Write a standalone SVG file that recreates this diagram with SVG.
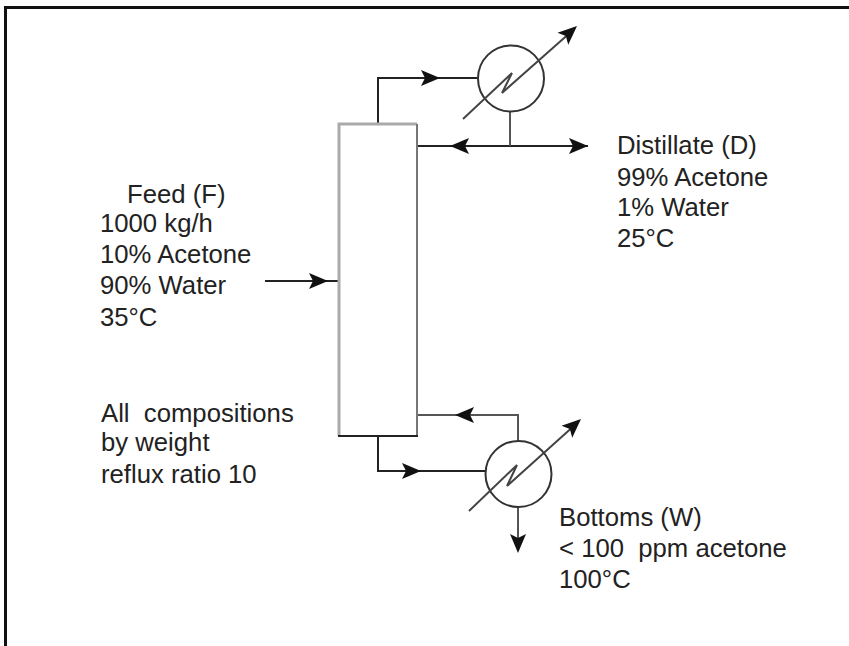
<svg xmlns="http://www.w3.org/2000/svg" width="849" height="646" viewBox="0 0 849 646">
<style>
text{font-family:"Liberation Sans",Arial,sans-serif;font-size:25.7px;fill:#222;white-space:pre}
.l{fill:none;stroke:#222;stroke-width:2}
.g{fill:none;stroke:#555;stroke-width:2}
.d{fill:none;stroke:#444;stroke-width:2;stroke-linejoin:miter}
.c{fill:none;stroke:#333;stroke-width:2}
.h{fill:#111;stroke:none}
</style>
<defs>
<path id="ah" d="M-19,-8 L0,0 L-19,8 L-15,0 Z"/>
</defs>
<rect width="849" height="646" fill="#fff"/>
<path d="M5.5,646 V7.5 H849" fill="none" stroke="#111" stroke-width="3"/>
<g id="connectors">
<path class="l" d="M378,124 V78 H478"/>
<use href="#ah" class="h" transform="translate(440,78)"/>
<path class="l" d="M417,146 H588"/>
<use href="#ah" class="h" transform="translate(588,146)"/>
<use href="#ah" class="h" transform="translate(450,146) rotate(180)"/>
<path class="g" d="M510,112 V146"/>
<path class="l" d="M265,281 H339"/>
<use href="#ah" class="h" transform="translate(328,281)"/>
<path class="g" d="M417,415 H518 V441"/>
<use href="#ah" class="h" transform="translate(455,415) rotate(180)"/>
<path class="l" d="M378,436 V471 H485"/>
<use href="#ah" class="h" transform="translate(421,471)"/>
<path class="g" d="M518,507 V550"/>
<use href="#ah" class="h" transform="translate(518,553) rotate(90)"/>
</g>
<g id="column">
<path d="M339,436 V124 H417" fill="none" stroke="#aaa" stroke-width="3"/>
<path d="M417,124 V436" fill="none" stroke="#777" stroke-width="2"/>
<path d="M338,436 H418" fill="none" stroke="#222" stroke-width="2"/>
</g>
<g id="condenser">
<circle cx="511" cy="78.5" r="33" class="c"/>
<path class="d" d="M463,119 L512,73 L502,93 L572,31"/>
<use href="#ah" class="h" transform="translate(577,26) rotate(-42)"/>
</g>
<g id="reboiler">
<circle cx="518.500" cy="474" r="33" class="c"/>
<path class="d" d="M469,511 L517,465 L507,486 L576,424"/>
<use href="#ah" class="h" transform="translate(581,419) rotate(-42)"/>
</g>
<g id="feed-label">
<text x="127" y="203">Feed (F)</text>
<text x="100" y="232">1000 kg/h</text>
<text x="100" y="263">10% Acetone</text>
<text x="100" y="294">90% Water</text>
<text x="100" y="326">35°C</text>
</g>
<g id="note-label">
<text x="101" y="422">All  compositions</text>
<text x="101" y="451">by weight</text>
<text x="101" y="483">reflux ratio 10</text>
</g>
<g id="distillate-label">
<text x="617" y="154">Distillate (D)</text>
<text x="617" y="186">99% Acetone</text>
<text x="617" y="216">1% Water</text>
<text x="617" y="247">25°C</text>
</g>
<g id="bottoms-label">
<text x="559" y="526">Bottoms (W)</text>
<text x="559" y="557">&lt; 100  ppm acetone</text>
<text x="559" y="588">100°C</text>
</g>
</svg>
